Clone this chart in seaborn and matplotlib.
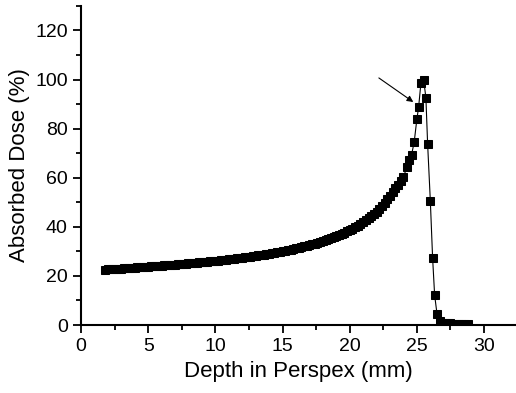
import matplotlib
matplotlib.use("Agg")
import matplotlib.pyplot as plt
import seaborn as sns
import pandas as pd
from matplotlib.ticker import MultipleLocator

# depth (mm) and relative dose (%)
depth = [1.8, 2.0, 2.2, 2.4, 2.6, 2.8, 3.0, 3.2, 3.4, 3.6, 3.8, 4.0, 4.2, 4.4,
         4.6, 4.8, 5.0, 5.2, 5.4, 5.6, 5.8, 6.0, 6.2, 6.4, 6.6, 6.8, 7.0, 7.2,
         7.4, 7.6, 7.8, 8.0, 8.2, 8.4, 8.6, 8.8, 9.0, 9.2, 9.4, 9.6, 9.8, 10.0,
         10.2, 10.4, 10.6, 10.8, 11.0, 11.2, 11.4, 11.6, 11.8, 12.0, 12.2, 12.4,
         12.6, 12.8, 13.0, 13.2, 13.4, 13.6, 13.8, 14.0, 14.2, 14.4, 14.6, 14.8,
         15.0, 15.2, 15.4, 15.6, 15.8, 16.0, 16.2, 16.4, 16.6, 16.8, 17.0, 17.2,
         17.4, 17.6, 17.8, 18.0, 18.2, 18.4, 18.6, 18.8, 19.0, 19.2, 19.4, 19.6,
         19.8, 20.0, 20.2, 20.4, 20.6, 20.8, 21.0, 21.2, 21.4, 21.6, 21.8, 22.0,
         22.2, 22.4, 22.6, 22.8, 23.0, 23.2, 23.4, 23.6, 23.8,
         24.0, 24.25, 24.43, 24.6, 24.8, 25.0, 25.13, 25.3, 25.5, 25.67, 25.8,
         26.0, 26.17, 26.32, 26.5, 26.7, 26.9, 27.1, 27.3, 27.5, 27.7, 27.9,
         28.1, 28.3, 28.5, 28.8]
dose = [22.6, 22.65, 22.7, 22.8, 22.9, 22.95, 23.0, 23.1, 23.2, 23.25, 23.3,
        23.4, 23.5, 23.55, 23.6, 23.7, 23.8, 23.85, 23.9, 24.0, 24.1, 24.2,
        24.3, 24.35, 24.4, 24.5, 24.6, 24.7, 24.8, 24.9, 25.0, 25.1, 25.2,
        25.3, 25.4, 25.5, 25.6, 25.7, 25.8, 25.9, 26.0, 26.1, 26.2, 26.35,
        26.5, 26.6, 26.7, 26.85, 27.0, 27.15, 27.3, 27.45, 27.6, 27.75, 27.9,
        28.05, 28.2, 28.35, 28.5, 28.7, 28.9, 29.05, 29.2, 29.4, 29.6, 29.8,
        30.0, 30.25, 30.5, 30.75, 31.0, 31.25, 31.5, 31.75, 32.0, 32.3, 32.6,
        32.9, 33.2, 33.55, 33.9, 34.25, 34.6, 35.0, 35.4, 35.8, 36.2, 36.65,
        37.1, 37.6, 38.1, 38.65, 39.2, 39.8, 40.4, 41.1, 41.8, 42.6, 43.4,
        44.3, 45.2, 46.2, 47.3, 48.5, 49.8, 51.2, 52.6, 54.2, 55.8, 57.1, 58.5,
        60.3, 64.2, 67.4, 69.2, 74.6, 83.9, 88.8, 98.6, 100.0, 92.6, 73.6,
        50.6, 27.3, 12.2, 4.4, 1.6, 0.9, 0.8, 0.7, 0.7, 0.6, 0.6,
        0.5, 0.5, 0.5, 0.5]

df = pd.DataFrame({"depth": depth, "dose": dose})

sns.set_style("ticks")
plt.rcParams["font.family"] = ["Liberation Sans", "DejaVu Sans"]
plt.rcParams["text.color"] = "black"
plt.rcParams["axes.labelcolor"] = "black"
plt.rcParams["xtick.color"] = "black"
plt.rcParams["ytick.color"] = "black"
plt.rcParams["axes.edgecolor"] = "black"

fig = plt.figure(figsize=(5.16, 3.93), dpi=100)
ax = fig.add_axes([0.157, 0.173, 0.841, 0.812])

sns.lineplot(data=df, x="depth", y="dose", sort=False, color="black", lw=0.8,
             marker="s", markersize=6, markeredgecolor="black", ax=ax)

# arrow pointing at the peak shoulder
ax.annotate("", xy=(24.9, 90.2), xytext=(22.0, 101.3),
            arrowprops=dict(arrowstyle="-|>", color="black", lw=0.8,
                            mutation_scale=9))

ax.set_xlim(0, 32.3)
ax.set_ylim(0, 130)
ax.xaxis.set_major_locator(MultipleLocator(5))
ax.xaxis.set_minor_locator(MultipleLocator(2.5))
ax.yaxis.set_major_locator(MultipleLocator(20))
ax.yaxis.set_minor_locator(MultipleLocator(10))
ax.tick_params(which="major", length=6, width=1.3, labelsize=14, direction="out")
ax.tick_params(which="minor", length=3.5, width=1.3, direction="out")
for s in ["left", "bottom"]:
    ax.spines[s].set_linewidth(1.5)
sns.despine(ax=ax)

ax.set_xlabel("Depth in Perspex (mm)", fontsize=16)
ax.set_ylabel("Absorbed Dose (%)", fontsize=16)

plt.savefig("out.png", dpi=100)
plt.close()
